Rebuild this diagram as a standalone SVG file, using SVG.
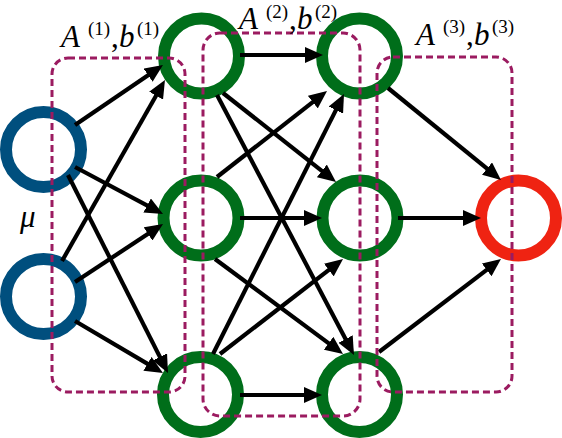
<svg xmlns="http://www.w3.org/2000/svg" width="562" height="438" viewBox="0 0 562 438">
<style>
.n{fill:none;stroke-width:12}
.blue{stroke:#004f7e}
.green{stroke:#006e1a}
.red{stroke:#ef2312}
.e{stroke:#000;stroke-width:4.2;fill:none;marker-end:url(#ah)}
.box{fill:none;stroke:#9b1b60;stroke-width:3;stroke-dasharray:7 4}
.it{font-style:italic}
.sup{font-size:19px;font-style:normal}
</style>
<defs>
<marker id="ah" markerUnits="userSpaceOnUse" markerWidth="18" markerHeight="16" refX="12" refY="8" orient="auto">
<path d="M0,0 L18,8 L0,16 Z" fill="#000"/>
</marker>
</defs>
<rect width="562" height="438" fill="#fff"/>
<g id="node-mu1"><circle class="n blue" cx="43.5" cy="149.5" r="37.5"/></g>
<g id="node-mu2"><circle class="n blue" cx="43.5" cy="296.5" r="37.5"/></g>
<g id="node-h1a"><circle class="n green" cx="201.5" cy="56" r="37.5"/></g>
<g id="node-h1b"><circle class="n green" cx="201" cy="218" r="37.5"/></g>
<g id="node-h1c"><circle class="n green" cx="200.5" cy="394.5" r="37.5"/></g>
<g id="node-h2a"><circle class="n green" cx="359.5" cy="56" r="37.5"/></g>
<g id="node-h2b"><circle class="n green" cx="360" cy="218" r="37.5"/></g>
<g id="node-h2c"><circle class="n green" cx="359.5" cy="394.5" r="37.5"/></g>
<g id="node-out"><circle class="n red" cx="518.5" cy="218" r="37.5"/></g>
<g id="connectors">
<line class="e" x1="75" y1="125" x2="158" y2="68.4"/>
<line class="e" x1="75" y1="167" x2="157.7" y2="211.2"/>
<line class="e" x1="68" y1="175" x2="165.3" y2="367.6"/>
<line class="e" x1="62" y1="261" x2="162" y2="85.2"/>
<line class="e" x1="75" y1="282" x2="158" y2="227.3"/>
<line class="e" x1="75" y1="321" x2="157.8" y2="369.9"/>
<line class="e" x1="240" y1="55" x2="317" y2="55"/>
<line class="e" x1="223" y1="93" x2="331.3" y2="178.3"/>
<line class="e" x1="217" y1="95" x2="351.2" y2="349.7"/>
<line class="e" x1="217" y1="177" x2="322.3" y2="94.7"/>
<line class="e" x1="240" y1="218" x2="316" y2="218"/>
<line class="e" x1="215" y1="259" x2="338.2" y2="350.4"/>
<line class="e" x1="213" y1="354" x2="341.3" y2="99.4"/>
<line class="e" x1="220" y1="354" x2="338.3" y2="262.7"/>
<line class="e" x1="240" y1="395" x2="316" y2="395"/>
<line class="e" x1="388" y1="88" x2="496.3" y2="176.2"/>
<line class="e" x1="398" y1="218" x2="475" y2="218"/>
<line class="e" x1="379" y1="352" x2="496.2" y2="262.6"/>
</g>
<g id="layers">
<rect class="box" x="52" y="58" width="133" height="334" rx="16"/>
<rect class="box" x="203" y="33" width="157" height="383" rx="17"/>
<rect class="box" x="377" y="57" width="135" height="335" rx="16"/>
</g>
<g id="labels" font-family="'Liberation Serif', 'DejaVu Serif', serif" font-size="31" fill="#000">
<text><tspan class="it" x="61" y="47">A</tspan><tspan class="sup" x="88" y="35">(1)</tspan><tspan x="111" y="47">,</tspan><tspan class="it" x="119" y="47">b</tspan><tspan class="sup" x="137" y="35">(1)</tspan></text>
<text><tspan class="it" x="239" y="29">A</tspan><tspan class="sup" x="266" y="18">(2)</tspan><tspan x="289" y="29">,</tspan><tspan class="it" x="297" y="29">b</tspan><tspan class="sup" x="315" y="18">(2)</tspan></text>
<text><tspan class="it" x="416" y="45">A</tspan><tspan class="sup" x="443" y="33">(3)</tspan><tspan x="466" y="45">,</tspan><tspan class="it" x="474" y="45">b</tspan><tspan class="sup" x="492" y="33">(3)</tspan></text>
<text class="it" x="20" y="227">μ</text>
</g>
</svg>
